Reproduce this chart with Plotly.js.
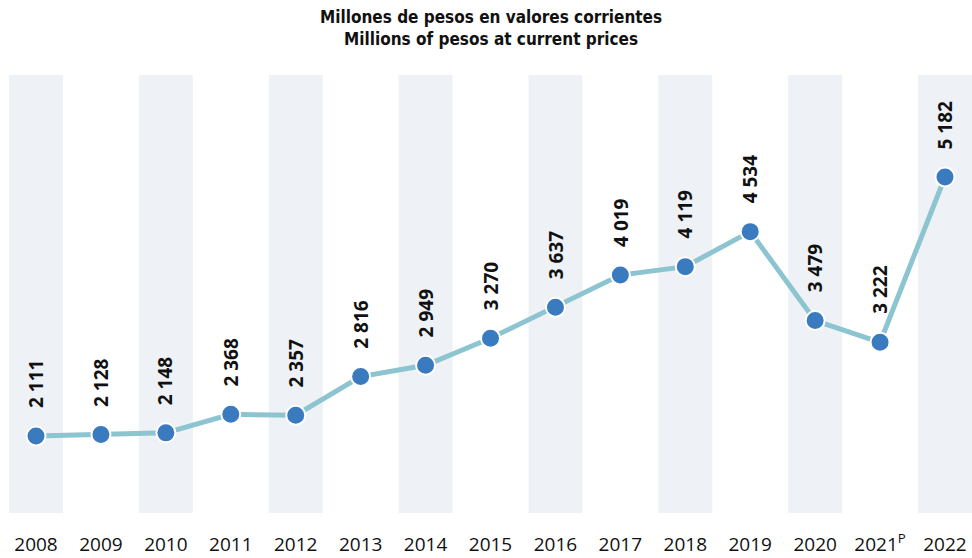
<!DOCTYPE html>
<html><head><meta charset="utf-8">
<script src="https://cdn.plot.ly/plotly-3.0.1.min.js"></script>
<style>html,body{margin:0;padding:0;background:#fff}#c{width:972px;height:558px}</style>
</head><body><div id="c"></div>
<script>
const years = [2008,2009,2010,2011,2012,2013,2014,2015,2016,2017,2018,2019,2020,2021,2022];
const tickLabels = ['2008','2009','2010','2011','2012','2013','2014','2015','2016','2017','2018','2019','2020','2021<sup>P</sup>','2022'];
const values = [2111,2128,2148,2368,2357,2816,2949,3270,3637,4019,4119,4534,3479,3222,5182];
const bandYears = [2008,2010,2012,2014,2016,2018,2020,2022];
const titleLines = ['Millones de pesos en valores corrientes','Millions of pesos at current prices'];

const fmt = v => String(v).replace(/\B(?=(\d{3})+(?!\d))/g, ' ');

const shapes = bandYears.map(y => ({type:'rect', xref:'x', yref:'paper', x0:y-0.416, x1:y+0.416, y0:0, y1:1,
  fillcolor:'#eef2f6', line:{width:0}, layer:'below'}));

const annotations = years.map((y,i) => ({x:y, y:values[i], text:'<b>'+fmt(values[i])+'</b>', textangle:-90,
  showarrow:false, xanchor:'center', yanchor:'bottom', yshift:26,
  font:{family:'Open Sans, sans-serif', size:19, color:'#111'}}));

annotations.push({xref:'paper', yref:'paper', x:0.5, y:1, yshift:70, xanchor:'center', yanchor:'top',
  showarrow:false, text:'<b>'+titleLines.join('<br>')+'</b>',
  font:{family:'Liberation Sans Narrow, DejaVu Sans Condensed, sans-serif', size:17, color:'#111'}});

const trace = {x:years, y:values, type:'scatter', mode:'lines+markers',
  line:{color:'#8cc4cf', width:5},
  marker:{color:'#3a7bbf', size:19, line:{color:'#fff', width:2}},
  hoverinfo:'skip'};

const layout = {
  width:972, height:558,
  margin:{l:9, r:0, t:75, b:45},
  paper_bgcolor:'#fff', plot_bgcolor:'#fff',
  showlegend:false,
  xaxis:{range:[2007.584,2022.416], tickvals:years, ticktext:tickLabels, showgrid:false, zeroline:false,
    showline:false, ticks:'', tickfont:{family:'Open Sans, sans-serif', size:19, color:'#111'}, ticklabelstandoff:18, fixedrange:true},
  yaxis:{range:[1198,6391], visible:false, showgrid:false, zeroline:false, fixedrange:true},
  shapes:shapes, annotations:annotations
};
Plotly.newPlot('c',[trace],layout,{displayModeBar:false, staticPlot:true});
</script></body></html>
